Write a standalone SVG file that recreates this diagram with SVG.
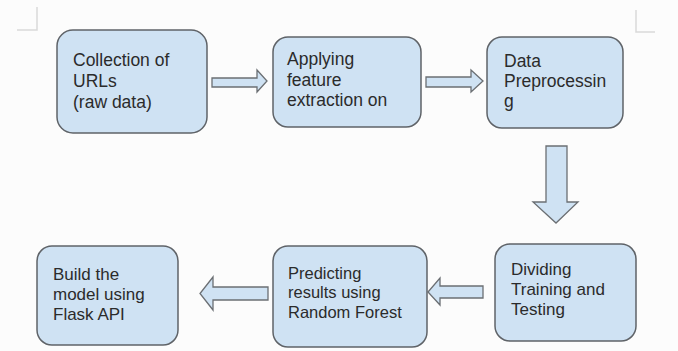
<svg xmlns="http://www.w3.org/2000/svg" width="678" height="351" viewBox="0 0 678 351">
<style>
.box{fill:#cfe2f3;stroke:#5f6368;stroke-width:1.5}
.arr{fill:#cfe2f3;stroke:#6b6f73;stroke-width:1.3;stroke-linejoin:miter}
.t{font-family:"Liberation Sans",Arial,sans-serif;fill:#2b2b2b}
.top{font-size:17.5px}
.bot{font-size:17px}
.mark{fill:none;stroke:#d9d9d9;stroke-width:1.5}
</style>
<rect width="678" height="351" fill="#fcfcfc"/>
<path class="mark" d="M37 7V30H17"/>
<path class="mark" d="M636 10V32H655"/>
<g id="connectors">
<polygon class="arr" points="212,78 257,78 257,70 267,81 257,92 257,87 212,87"/>
<polygon class="arr" points="426,77 471,77 471,70 483,81 471,92 471,87 426,87"/>
<polygon class="arr" points="546,146 567,146 567,202 578,202 556,223 533,202 546,202"/>
<polygon class="arr" points="483,286 440,286 440,278 428,292 440,305 440,298 483,298"/>
<polygon class="arr" points="268,287 213,287 213,277 200,293.5 213,310 213,300 268,300"/>
</g>
<g id="n1">
<rect class="box" x="57" y="30" width="150" height="103" rx="16"/>
<text class="t top" x="73" y="66">Collection of</text>
<text class="t top" x="73" y="87">URLs</text>
<text class="t top" x="73" y="108">(raw data)</text>
</g>
<g id="n2">
<rect class="box" x="273" y="37" width="148" height="90" rx="15"/>
<text class="t top" x="287" y="65">Applying</text>
<text class="t top" x="287" y="86">feature</text>
<text class="t top" x="287" y="106">extraction on</text>
</g>
<g id="n3">
<rect class="box" x="487" y="37" width="136" height="91" rx="15"/>
<text class="t top" x="504" y="67">Data</text>
<text class="t top" x="504" y="87">Preprocessin</text>
<text class="t top" x="504" y="107">g</text>
</g>
<g id="n4">
<rect class="box" x="495" y="244" width="141" height="97" rx="15"/>
<text class="t bot" x="511" y="275">Dividing</text>
<text class="t bot" x="511" y="295">Training and</text>
<text class="t bot" x="511" y="315">Testing</text>
</g>
<g id="n5">
<rect class="box" x="273" y="246" width="154" height="101" rx="15"/>
<text class="t" style="font-size:16.5px" x="288" y="279">Predicting</text>
<text class="t" style="font-size:16.5px" x="288" y="298">results using</text>
<text class="t" style="font-size:16.5px" x="288" y="318">Random Forest</text>
</g>
<g id="n6">
<rect class="box" x="37" y="246" width="141" height="99" rx="15"/>
<text class="t bot" x="53" y="280">Build the</text>
<text class="t bot" x="53" y="300">model using</text>
<text class="t bot" x="53" y="320">Flask API</text>
</g>
</svg>
